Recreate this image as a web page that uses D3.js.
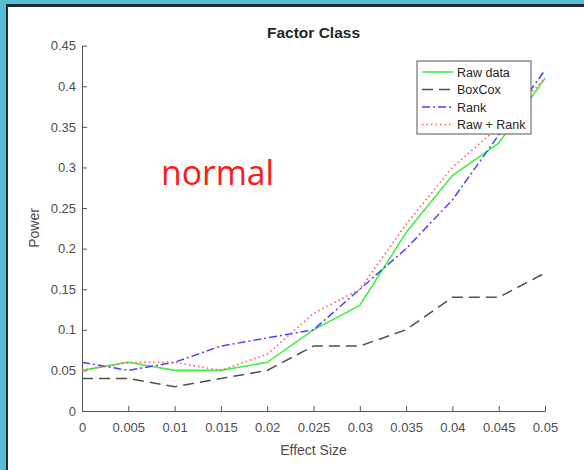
<!DOCTYPE html>
<html lang="en"><head>
<meta charset="utf-8"/>
<title>Factor Class</title>
<script src="https://d3js.org/d3.v7.min.js"></script>
<style>
    body {margin: 0; padding: 0; width: 584px; height: 470px; overflow: hidden; background: #ffffff;
        font-family: 'Liberation Sans', Arial, sans-serif;}
    .frame-left {position: absolute; left: 0; top: 0; width: 6px; height: 470px; background: #57bdd4;}
    .frame-top {position: absolute; left: 0; top: 0; width: 584px; height: 4px; background: #57bdd4;}
    .edge-left {position: absolute; left: 6px; top: 4px; width: 2px; height: 466px; background: #1c2a36;}
    .edge-top {position: absolute; left: 6px; top: 4px; width: 578px; height: 3px; background: #1c2a36;}
    #chart {position: absolute; left: 0; top: 0;}
    .tick text {fill: #4d4d4d; font-size: 13px; font-family: 'Liberation Sans', Arial, sans-serif;}
    .tick line, .domain {stroke: #555555;}
</style>
</head>
<body>
<div class="frame-left"></div>
<div class="frame-top"></div>
<div class="edge-left"></div>
<div class="edge-top"></div>
<div id="chart"></div>
<script>
    // Values
    const effectSize = [0, 0.005, 0.01, 0.015, 0.02, 0.025, 0.03, 0.035, 0.04, 0.045, 0.05];
    const rawData  = [0.05, 0.06, 0.05, 0.05, 0.06, 0.10, 0.13, 0.22, 0.29, 0.33, 0.41];
    const boxCox   = [0.04, 0.04, 0.03, 0.04, 0.05, 0.08, 0.08, 0.10, 0.14, 0.14, 0.17];
    const rankData = [0.06, 0.05, 0.06, 0.08, 0.09, 0.10, 0.15, 0.20, 0.26, 0.34, 0.42];
    const rawRank  = [0.05, 0.06, 0.06, 0.05, 0.07, 0.12, 0.15, 0.23, 0.30, 0.35, 0.41];
    const seriesNames = ["Raw data", "BoxCox", "Rank", "Raw + Rank"];
    const xTickLabels = ["0", "0.005", "0.01", "0.015", "0.02", "0.025", "0.03", "0.035", "0.04", "0.045", "0.05"];
    const yTickValues = [0, 0.05, 0.1, 0.15, 0.2, 0.25, 0.3, 0.35, 0.4, 0.45];
    const yTickLabels = ["0", "0.05", "0.1", "0.15", "0.2", "0.25", "0.3", "0.35", "0.4", "0.45"];

    const styles = [
        {color: "#3ff03f", dash: null, width: 1.6},
        {color: "#505050", dash: "11,6", width: 1.5},
        {color: "#4646ff", dash: "8,3,2,3", width: 1.5},
        {color: "#ff5a5a", dash: "1.5,3", width: 1.6}
    ];
    const allSeries = [rawData, boxCox, rankData, rawRank];

    const svg = d3.select("#chart").append("svg")
        .attr("width", 584)
        .attr("height", 470);

    const x = d3.scaleLinear().domain([0, 0.05]).range([82, 545]);
    const y = d3.scaleLinear().domain([0, 0.45]).range([411, 45.7]);

    // axes (ticks point inward like MATLAB)
    svg.append("g")
        .attr("transform", "translate(0,411)")
        .call(d3.axisBottom(x)
            .tickValues(effectSize)
            .tickFormat((d, i) => xTickLabels[i])
            .tickSizeInner(-5).tickSizeOuter(0).tickPadding(12));

    svg.append("g")
        .attr("transform", "translate(82,0)")
        .call(d3.axisLeft(y)
            .tickValues(yTickValues)
            .tickFormat((d, i) => yTickLabels[i])
            .tickSizeInner(-5).tickSizeOuter(0).tickPadding(6));

    // title + labels
    svg.append("text")
        .attr("x", 313.5).attr("y", 38)
        .attr("text-anchor", "middle")
        .attr("fill", "#262626")
        .style("font-size", "15.5px").style("font-weight", "bold")
        .text("Factor Class");

    svg.append("text")
        .attr("x", 313.5).attr("y", 455)
        .attr("text-anchor", "middle")
        .attr("fill", "#4d4d4d")
        .style("font-size", "14px")
        .text("Effect Size");

    svg.append("text")
        .attr("transform", "translate(39,228) rotate(-90)")
        .attr("text-anchor", "middle")
        .attr("fill", "#4d4d4d")
        .style("font-size", "14px")
        .text("Power");

    // series lines
    const line = d3.line()
        .x((d, i) => x(effectSize[i]))
        .y(d => y(d));

    allSeries.forEach((s, k) => {
        svg.append("path")
            .datum(s)
            .attr("fill", "none")
            .attr("stroke", styles[k].color)
            .attr("stroke-width", styles[k].width)
            .attr("stroke-dasharray", styles[k].dash)
            .attr("d", line);
    });

    // handwritten note
    svg.append("text")
        .attr("x", 161).attr("y", 185)
        .attr("fill", "#ff1a1a")
        .attr("textLength", 113)
        .attr("lengthAdjust", "spacingAndGlyphs")
        .style("font-family", "'Open Sans', sans-serif")
        .style("font-weight", 400)
        .style("font-size", "35px")
        .text("normal");

    // legend
    const legend = svg.append("g").attr("transform", "translate(417,61)");
    legend.append("rect")
        .attr("width", 114).attr("height", 73)
        .attr("fill", "#ffffff")
        .attr("stroke", "#555555")
        .attr("stroke-width", 1);

    seriesNames.forEach((name, k) => {
        const ry = 11 + k * 17.5;
        legend.append("line")
            .attr("x1", 5).attr("x2", 36)
            .attr("y1", ry).attr("y2", ry)
            .attr("stroke", styles[k].color)
            .attr("stroke-width", styles[k].width)
            .attr("stroke-dasharray", styles[k].dash);
        legend.append("text")
            .attr("x", 40).attr("y", ry + 4.5)
            .attr("fill", "#262626")
            .style("font-size", "12.5px")
            .text(name);
    });
</script>
</body></html>
